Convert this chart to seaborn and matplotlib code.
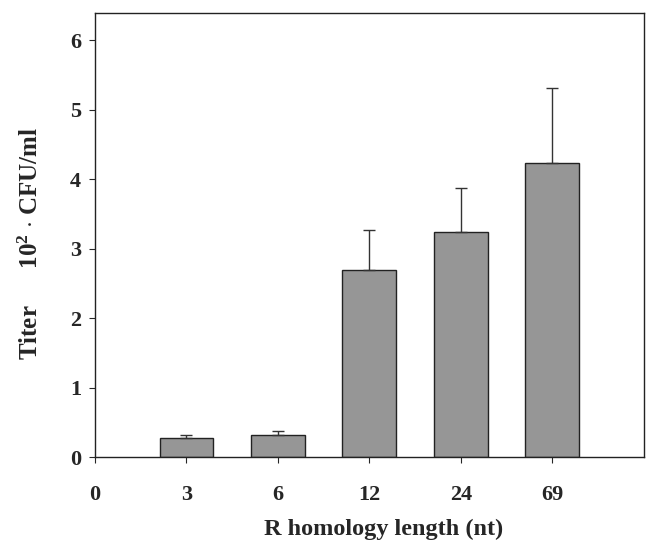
import numpy as np
import pandas as pd
import matplotlib
matplotlib.use("Agg")
import matplotlib.pyplot as plt
import seaborn as sns

# data
lengths = ["3", "6", "12", "24", "69"]
titer = [0.28, 0.31, 2.70, 3.24, 4.24]
titer_err = [0.04, 0.06, 0.57, 0.64, 1.08]
tick_labels = ["0"] + lengths

sns.set_style("ticks")
plt.rcParams.update(
    {
        "font.family": ["Liberation Serif", "DejaVu Serif"],
        "font.weight": "bold",
        "mathtext.fontset": "custom",
        "mathtext.rm": "Liberation Serif:bold",
        "mathtext.it": "Liberation Serif:bold",
        "mathtext.bf": "Liberation Serif:bold",
        "axes.linewidth": 1.0,
    }
)


def main():
    df = pd.DataFrame({"length": lengths, "titer": titer, "err": titer_err})

    fig = plt.figure(figsize=(6.52, 5.42), dpi=100)
    ax = fig.add_axes([0.1457, 0.1568, 0.842, 0.82])

    sns.barplot(
        data=df,
        x="length",
        y="titer",
        order=lengths,
        color="#969696",
        edgecolor="#222222",
        linewidth=1.0,
        width=0.59,
        saturation=1,
        errorbar=None,
        ax=ax,
    )

    # upper error bars only
    xs = np.arange(len(lengths))
    ax.errorbar(
        xs,
        df["titer"],
        yerr=[np.zeros(len(lengths)), df["err"]],
        fmt="none",
        ecolor="#333333",
        elinewidth=1.0,
        capsize=4.5,
        capthick=1.0,
    )

    ax.set_xlim(-1, 5)
    ax.set_ylim(0, 6.4)
    ax.set_xticks(np.arange(-1, len(lengths)))
    ax.set_xticklabels(tick_labels)
    ax.set_yticks(range(0, 7))

    ax.tick_params(axis="x", length=4, pad=16, labelsize=16, direction="out")
    ax.tick_params(axis="y", length=4, pad=6, labelsize=16, direction="out")
    for lbl in ax.get_xticklabels() + ax.get_yticklabels():
        lbl.set_fontweight("bold")

    for side in ["top", "right", "left", "bottom"]:
        ax.spines[side].set_visible(True)
        ax.spines[side].set_color("#222222")

    ax.set_xlabel("R homology length (nt)", fontsize=17.5, fontweight="bold")
    ax.xaxis.set_label_coords(0.525, -0.14)
    ax.set_ylabel(r"Titer      10$^{2}$ $\cdot$ CFU/ml", fontsize=18, fontweight="bold")
    ax.yaxis.set_label_coords(-0.095, 0.48)

    fig.savefig("out.png", dpi=100, facecolor="white")
    plt.close(fig)


if __name__ == "__main__":
    main()
